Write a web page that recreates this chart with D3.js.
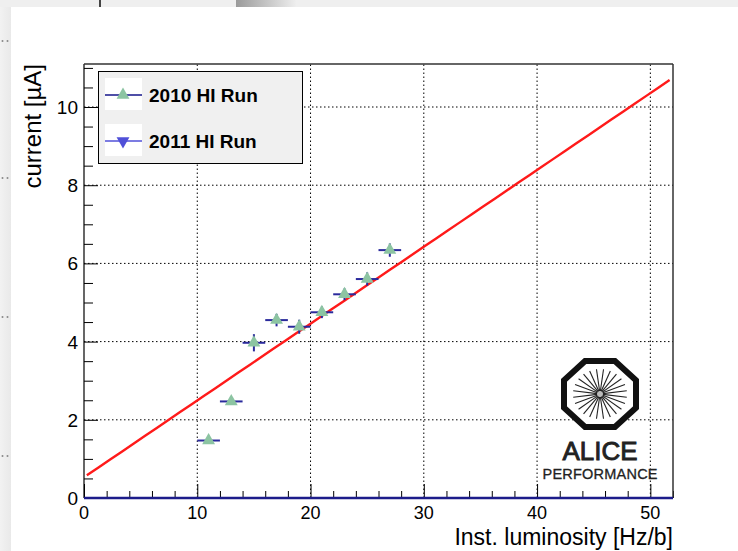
<!DOCTYPE html>
<html><head><meta charset="utf-8">
<script src="https://cdn.jsdelivr.net/npm/d3@7"></script>
<style>
html,body{margin:0;padding:0;background:#fff;}
svg{display:block;}
text{font-family:"Liberation Sans",Arial,Helvetica,sans-serif;}
</style></head>
<body>
<svg id="c" width="738" height="551"></svg>
<script>
// ---- data ----
const lumi2010 = [11, 13, 15, 17, 19, 21, 23, 25, 27];
const lumiErr2010 = [1, 1, 1, 1, 1, 1, 1, 1, 1];
const current2010 = [1.47, 2.47, 3.97, 4.55, 4.38, 4.75, 5.21, 5.60, 6.34];
const currentErr2010 = [0.08, 0.08, 0.22, 0.16, 0.18, 0.15, 0.15, 0.17, 0.17];
const lumi2011 = [0, 52];
const current2011 = [0, 0];
const fitParams = [0.53, 0.1965]; // p0 + p1*x
const fitRange = [0.25, 51.7];
const xTicks = [0, 10, 20, 30, 40, 50];
const yTicks = [0, 2, 4, 6, 8, 10];
const legendLabels = ["2010 HI Run", "2011 HI Run"];

const svg = d3.select("#c");
const x = d3.scaleLinear().domain([0, 52]).range([84, 673]);
const y = d3.scaleLinear().domain([0, 11.1]).range([498, 64]);
const x0 = x.range()[0], x1 = x.range()[1], y0 = y.range()[0], y1 = y.range()[1];

// ---- window chrome (screenshot artefacts) ----
const defs = svg.append("defs");
const g1 = defs.append("linearGradient").attr("id","topgrad").attr("x1","0").attr("x2","1");
g1.append("stop").attr("offset","0").attr("stop-color","#9a9a9a");
g1.append("stop").attr("offset","1").attr("stop-color","#eeeeee");
const g2 = defs.append("linearGradient").attr("id","leftgrad").attr("x1","0").attr("x2","1");
g2.append("stop").attr("offset","0").attr("stop-color","#f2f2f2");
g2.append("stop").attr("offset","1").attr("stop-color","#e9e9e9");
svg.append("rect").attr("x",0).attr("y",0).attr("width",738).attr("height",7).attr("fill","#efefef");
svg.append("rect").attr("x",236).attr("y",0).attr("width",60).attr("height",7).attr("fill","url(#topgrad)");
svg.append("rect").attr("x",99).attr("y",0).attr("width",2).attr("height",7).attr("fill","#444");
svg.append("rect").attr("x",0).attr("y",7).attr("width",11).attr("height",544).attr("fill","url(#leftgrad)");
[41, 178, 317, 456].forEach(yy => {
  [2.5, 7.5].forEach(xx => svg.append("circle").attr("cx",xx).attr("cy",yy).attr("r",1).attr("fill","#888"));
});

// ---- grid ----
const grid = svg.append("g").attr("stroke","#000").attr("stroke-width",1).attr("stroke-dasharray","1.5,2.5");
xTicks.filter(d => d > 0).forEach(d => grid.append("line").attr("x1",x(d)).attr("x2",x(d)).attr("y1",y0).attr("y2",y1));
yTicks.filter(d => d > 0).forEach(d => grid.append("line").attr("x1",x0).attr("x2",x1).attr("y1",y(d)).attr("y2",y(d)));

// ---- axes ----
const xAxis = d3.axisTop(x).tickValues(d3.range(0, 52.01, 2)).tickSize(0).tickFormat("");
const ax = svg.append("g").attr("transform",`translate(0,${y0})`).call(xAxis);
ax.select(".domain").remove();
ax.selectAll(".tick line").attr("y2", d => d % 10 === 0 ? -14 : -7).attr("stroke","#000");
svg.append("g").selectAll("text").data(xTicks).join("text")
  .attr("x", d => x(d)).attr("y", 519).attr("text-anchor","middle")
  .attr("font-size", 18).text(d => d);

const yAxis = d3.axisRight(y).tickValues(d3.range(0, 11.01, 0.5)).tickSize(0).tickFormat("");
const ay = svg.append("g").attr("transform",`translate(${x0},0)`).call(yAxis);
ay.select(".domain").remove();
ay.selectAll(".tick line").attr("x2", d => Math.abs(d % 2) < 1e-9 ? 14 : 9).attr("stroke","#000");
svg.append("g").selectAll("text").data(yTicks).join("text")
  .attr("x", 78).attr("y", d => y(d) + 7).attr("text-anchor","end")
  .attr("font-size", 19).text(d => d);

// frame
svg.append("line").attr("x1",x0).attr("x2",x0).attr("y1",y0).attr("y2",y1).attr("stroke","#000").attr("stroke-width",1.2);
svg.append("line").attr("x1",x0).attr("x2",x1).attr("y1",y1).attr("y2",y1).attr("stroke","#333").attr("stroke-width",1.5);
svg.append("line").attr("x1",x1).attr("x2",x1).attr("y1",y1).attr("y2",y0).attr("stroke","#333").attr("stroke-width",1.5);

// axis titles
svg.append("text").attr("x", x1).attr("y", 545).attr("text-anchor","end").attr("font-size",23)
  .text("Inst. luminosity [Hz/b]");
svg.append("text").attr("transform","translate(41,64) rotate(-90)").attr("text-anchor","end").attr("font-size",24)
  .text("current [µA]");

// ---- fit line ----
const fitPts = d3.range(fitRange[0], fitRange[1] + 0.001, (fitRange[1]-fitRange[0])/50).map(v => [v, fitParams[0] + fitParams[1]*v]);
svg.append("path").datum(fitPts)
  .attr("d", d3.line().x(d => x(d[0])).y(d => y(d[1])))
  .attr("fill","none").attr("stroke","#ff1a1a").attr("stroke-width",2.4);

// ---- 2011 series (along zero) ----
svg.append("path").datum(lumi2011.map((v,i) => [v, current2011[i]]))
  .attr("d", d3.line().x(d => x(d[0])).y(d => y(d[1])))
  .attr("fill","none").attr("stroke","#1c1c8a").attr("stroke-width",2.5);

// ---- 2010 data ----
const data2010 = lumi2010.map((v,i) => ({x:v, ex:lumiErr2010[i], y:current2010[i], ey:currentErr2010[i]}));
const errCol = "#2a2a9c";
const pts = svg.append("g");
pts.selectAll("line.ex").data(data2010).join("line").attr("class","ex")
  .attr("x1", d => x(d.x - d.ex)).attr("x2", d => x(d.x + d.ex))
  .attr("y1", d => y(d.y)).attr("y2", d => y(d.y))
  .attr("stroke", errCol).attr("stroke-width", 2);
pts.selectAll("line.ey").data(data2010).join("line").attr("class","ey")
  .attr("x1", d => x(d.x)).attr("x2", d => x(d.x))
  .attr("y1", d => y(d.y - d.ey)).attr("y2", d => y(d.y + d.ey))
  .attr("stroke", errCol).attr("stroke-width", 2);
const triUp = d3.symbol().type(d3.symbolTriangle).size(72);
pts.selectAll("path.m").data(data2010).join("path").attr("class","m")
  .attr("transform", d => `translate(${x(d.x)},${y(d.y)})`)
  .attr("d", triUp()).attr("fill","#8cc4a2");

// ---- legend ----
const lg = svg.append("g");
lg.append("rect").attr("x",98.5).attr("y",71.5).attr("width",204).attr("height",92)
  .attr("fill","#f0f0f0").attr("stroke","#000").attr("stroke-width",1);
const legRows = [
  {label: legendLabels[0], lineCol:"#14148a", markCol:"#8cc4a2", rot:0, cy:95},
  {label: legendLabels[1], lineCol:"#5050d8", markCol:"#5050d8", rot:180, cy:141}
];
legRows.forEach(r => {
  lg.append("rect").attr("x",105).attr("y",r.cy-17).attr("width",37).attr("height",32).attr("fill","#fff");
  lg.append("line").attr("x1",105).attr("x2",142).attr("y1",r.cy).attr("y2",r.cy).attr("stroke",r.lineCol).attr("stroke-width",1.5);
  lg.append("path").attr("transform",`translate(123,${r.cy}) rotate(${r.rot})`).attr("d",triUp()).attr("fill",r.markCol);
  lg.append("text").attr("x",149).attr("y",r.cy+7).attr("font-size",19).attr("font-weight","bold").text(r.label);
});

// ---- ALICE logo ----
const logo = svg.append("g").attr("transform","translate(600,394)");
const hw = 36, hh = 33;
const oct = d3.range(8).map(k => {
  const a = Math.PI/8 + k*Math.PI/4;
  const r = 1/Math.cos(Math.PI/8);
  return [Math.cos(a)*r*hw, Math.sin(a)*r*hh];
});
logo.append("path").attr("d","M"+oct.map(p=>p.join(",")).join("L")+"Z")
  .attr("fill","#fff").attr("stroke","#111").attr("stroke-width",6).attr("stroke-linejoin","miter");
logo.append("circle").attr("r",5).attr("fill","#bbb");
d3.range(24).forEach(k => {
  const a = k*Math.PI/12 + Math.PI/24;
  logo.append("line").attr("x1",Math.cos(a)*3).attr("y1",Math.sin(a)*3)
    .attr("x2",Math.cos(a)*27).attr("y2",Math.sin(a)*25)
    .attr("stroke","#222").attr("stroke-width",1.1);
});
svg.append("text").attr("x",600).attr("y",460).attr("text-anchor","middle")
  .attr("font-family","DejaVu Sans, sans-serif").attr("font-size",26).attr("fill","#222")
  .attr("stroke","#222").attr("stroke-width",0.9)
  .attr("textLength",75).attr("lengthAdjust","spacingAndGlyphs").text("ALICE");
svg.append("text").attr("x",600).attr("y",479).attr("text-anchor","middle")
  .attr("font-family","DejaVu Sans, sans-serif").attr("font-size",14.5).attr("fill","#222")
  .attr("stroke","#222").attr("stroke-width",0.3)
  .attr("textLength",115).attr("lengthAdjust","spacing").text("PERFORMANCE");
</script>
</body></html>
